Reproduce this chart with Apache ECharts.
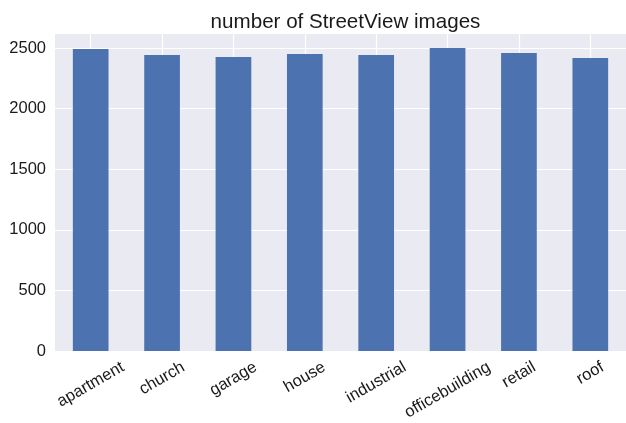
<!DOCTYPE html>
<html><head><meta charset="utf-8">
<script src="https://cdn.jsdelivr.net/npm/echarts@6/dist/echarts.min.js"></script>
<style>html,body{margin:0;padding:0;background:#fff}#c{width:626px;height:423px}</style>
</head><body><div id="c"></div>
<script>
const categories = ["apartment","church","garage","house","industrial","officebuilding","retail","roof"];
const imageCounts = [2491, 2442, 2425, 2450, 2442, 2500, 2458, 2417];
const yTicks = [0, 500, 1000, 1500, 2000, 2500];
const titleText = "number of StreetView images";

const font = 'Liberation Sans';
const labelSize = 16.5;
// measure label widths so rotated labels can be centred under their bar (matplotlib style)
const ctx = document.createElement('canvas').getContext('2d');
ctx.font = labelSize + 'px "' + font + '"';
const sin30 = 0.5, cos30 = Math.sqrt(3) / 2;
const rich = {t: {fontFamily: font, fontSize: labelSize, color: '#1a1a1a', lineHeight: 20}};
categories.forEach((c, i) => {
  const w = ctx.measureText(c).width;
  const d = w * sin30 / 2;            // wanted vertical screen shift
  const b = d * cos30, a = d * sin30; // shift in text frame (down, left)
  rich['s' + i] = {fontSize: 1, height: Math.max(1, 2 * b), lineHeight: Math.max(1, 2 * b), width: 1};
  rich['r' + i] = {fontSize: 1, width: Math.max(1, 2 * a), height: 1};
});

const chart = echarts.init(document.getElementById('c'), null, {renderer: 'canvas'});
chart.setOption({
  animation: false,
  backgroundColor: '#ffffff',
  title: {
    text: titleText, left: 340.5, top: 7, textAlign: 'center',
    textStyle: {fontFamily: font, fontSize: 20.6, fontWeight: 'normal', color: '#1a1a1a'}
  },
  grid: {left: 55, right: 0, top: 33, bottom: 72, backgroundColor: '#EAEAF2', show: true,
    borderWidth: 0, containLabel: false, outerBoundsMode: 'none'},
  xAxis: {
    type: 'category', data: categories,
    axisLine: {show: false}, axisTick: {show: false, alignWithLabel: true},
    splitLine: {show: true, alignWithLabel: true, lineStyle: {color: '#ffffff', width: 1.2}},
    axisLabel: {rotate: 30, align: 'center', verticalAlign: 'middle', fontFamily: font,
      fontSize: labelSize, color: '#1a1a1a', margin: 15, interval: 0,
      formatter: (v, i) => '{s' + i + '| }\n{t|' + v + '}{r' + i + '| }',
      rich: rich}
  },
  yAxis: {
    type: 'value', min: 0, max: 2624, interval: 500,
    axisLine: {show: false}, axisTick: {show: false},
    splitLine: {show: true, lineStyle: {color: '#ffffff', width: 1.2}},
    axisLabel: {fontFamily: font, fontSize: 16.5, color: '#1a1a1a', margin: 9,
      formatter: v => yTicks.includes(v) ? String(v) : ''},
    showMaxLabel: false
  },
  series: [{
    type: 'bar', data: imageCounts, barWidth: '50%',
    itemStyle: {color: '#4C72B0'}
  }]
});
</script></body></html>
